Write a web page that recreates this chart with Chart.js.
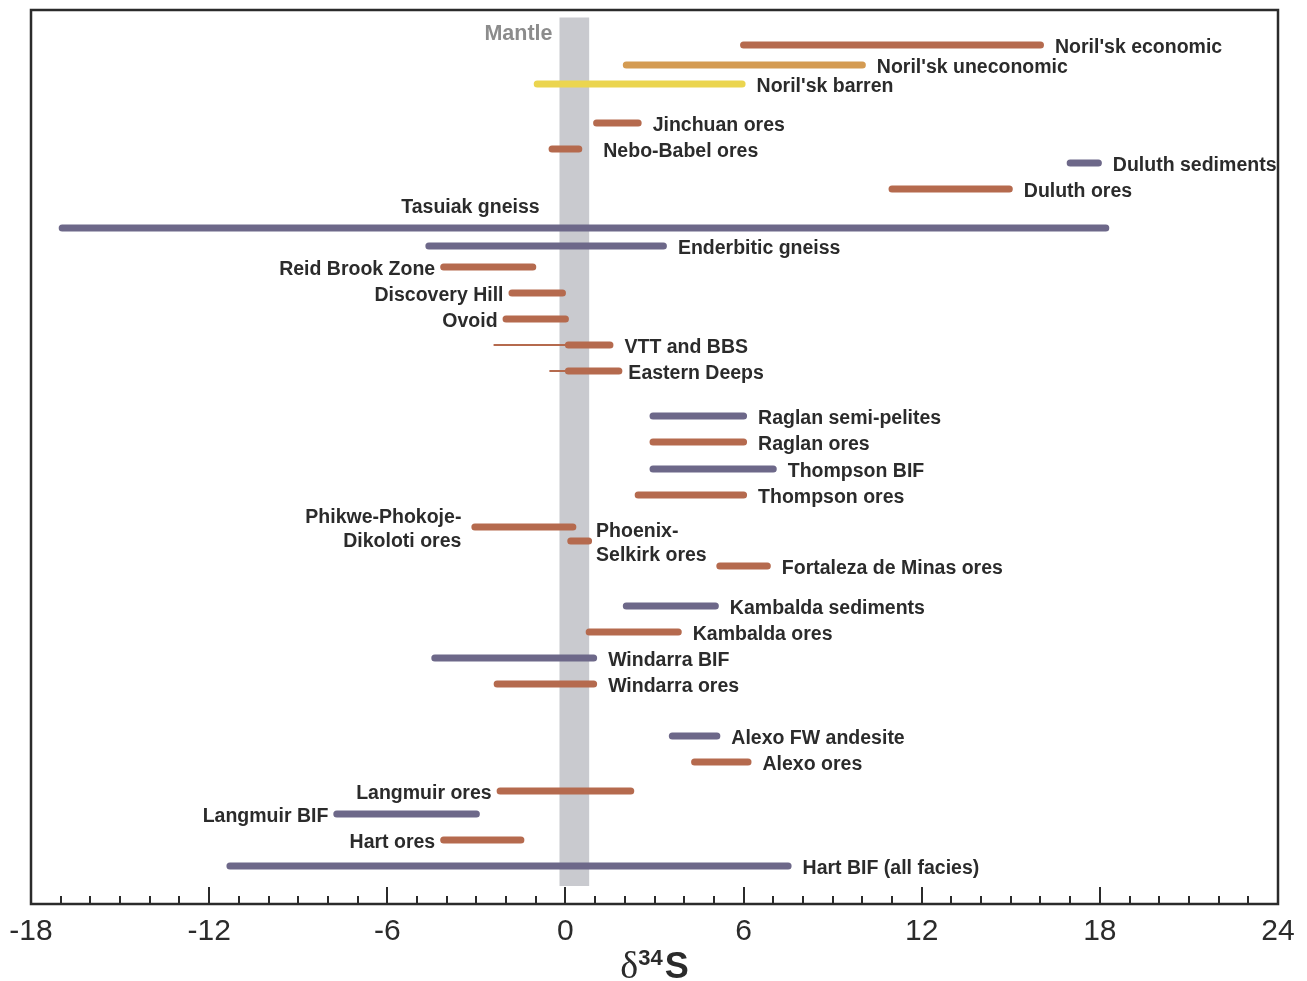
<!DOCTYPE html>
<html>
<head>
<meta charset="utf-8">
<title>d34S ranges</title>
<script src="https://cdn.jsdelivr.net/npm/chart.js@4/dist/chart.umd.min.js"></script>
<style>
  html, body { margin: 0; padding: 0; background: #ffffff; }
  #wrap { width: 1307px; height: 981px; position: relative; }
</style>
</head>
<body>
<div id="wrap"><canvas id="chart"></canvas></div>
<script>
// δ34S ranges per deposit / host rock
const names = [
  "Noril'sk economic", "Noril'sk uneconomic", "Noril'sk barren", 'Jinchuan ores',
  'Nebo-Babel ores', 'Duluth sediments', 'Duluth ores', 'Tasuiak gneiss',
  'Enderbitic gneiss', 'Reid Brook Zone', 'Discovery Hill', 'Ovoid',
  'VTT and BBS', 'Eastern Deeps', 'Raglan semi-pelites', 'Raglan ores',
  'Thompson BIF', 'Thompson ores', 'Phikwe-Phokoje-\nDikoloti ores', 'Phoenix-\nSelkirk ores',
  'Fortaleza de Minas ores', 'Kambalda sediments', 'Kambalda ores', 'Windarra BIF',
  'Windarra ores', 'Alexo FW andesite', 'Alexo ores', 'Langmuir ores',
  'Langmuir BIF', 'Hart ores', 'Hart BIF (all facies)'
];
const lowVals = [
  6.0, 2.05, -0.95, 1.05, -0.45, 17.0, 11.0, -16.95,
  -4.6, -4.1, -1.8, -2.0, 0.1, 0.1, 2.95, 2.95,
  2.95, 2.45, -3.05, 0.18, 5.2, 2.05, 0.8, -4.4,
  -2.3, 3.6, 4.35, -2.2, -7.7, -4.1, -11.3
];
const highVals = [
  16.0, 10.0, 5.95, 2.45, 0.45, 17.95, 14.95, 18.2,
  3.3, -1.1, -0.1, 0.0, 1.5, 1.8, 6.0, 6.0,
  7.0, 6.0, 0.25, 0.78, 6.8, 5.05, 3.8, 0.95,
  0.95, 5.1, 6.15, 2.2, -3.0, -1.5, 7.5
];
// vertical placement of each row (distance from the top of the plot)
const rowPos = [
  35, 55, 74, 113, 139, 153, 179, 218,
  236, 257, 283, 309, 335, 361, 406, 432,
  459, 485, 517, 531, 556, 596, 622, 648,
  674, 726, 752, 781, 804, 830, 856
];
// sample type: ore, sed (country rock), unecon, barren
const kinds = [
  'ore', 'unecon', 'barren', 'ore', 'ore', 'sed', 'ore', 'sed',
  'sed', 'ore', 'ore', 'ore', 'ore', 'ore', 'sed', 'ore',
  'sed', 'ore', 'ore', 'ore', 'ore', 'sed', 'ore', 'sed',
  'ore', 'sed', 'ore', 'ore', 'sed', 'ore', 'sed'
];
// which side the label sits on: r = right, l = left, t = above
const labelSide = [
  'r', 'r', 'r', 'r', 'r', 'r', 'r', 't',
  'r', 'l', 'l', 'l', 'r', 'r', 'r', 'r',
  'r', 'r', 'l', 'r', 'r', 'r', 'r', 'r',
  'r', 'r', 'r', 'l', 'l', 'l', 'r'
];
// thin tails extending the range of two Voisey's Bay groups
const tailNames = ['VTT and BBS', 'Eastern Deeps'];
const tailLow = [-2.42, -0.54];
const tailHigh = [0.1, 0.1];

const mantleRange = [-0.2, 0.8];
const mantleRows = [7.5, 876];
const xTicks = [-18, -12, -6, 0, 6, 12, 18, 24];

const colors = {
  ore: '#b56a4e',
  sed: '#6d6889',
  unecon: '#d49b52',
  barren: '#ebd54f'
};
const textColor = '#2b2b2b';
const labelFont = 'bold 19.5px "Liberation Sans", Arial, sans-serif';
// a few labels sit closer to / further from their bar
const gapOverride = { 'Nebo-Babel ores': 21, 'Phoenix-\nSelkirk ores': 4, 'Eastern Deeps': 6, 'Phikwe-Phokoje-\nDikoloti ores': 10 };

const datasets = [];
names.forEach((n, i) => {
  datasets.push({
    label: n,
    data: [{ x: lowVals[i], y: rowPos[i] }, { x: highVals[i], y: rowPos[i] }],
    showLine: true,
    borderColor: colors[kinds[i]],
    backgroundColor: colors[kinds[i]],
    borderWidth: 7,
    borderCapStyle: 'round',
    pointRadius: 0,
    pointHoverRadius: 0
  });
});
tailNames.forEach((n, i) => {
  const row = rowPos[names.indexOf(n)];
  datasets.push({
    label: n + ' tail',
    data: [{ x: tailLow[i], y: row }, { x: tailHigh[i], y: row }],
    showLine: true,
    borderColor: colors.ore,
    borderWidth: 2,
    borderCapStyle: 'butt',
    pointRadius: 0,
    pointHoverRadius: 0
  });
});

const decorPlugin = {
  id: 'decor',
  beforeDatasetsDraw(chart) {
    const ctx = chart.ctx;
    const x = chart.scales.x, y = chart.scales.y;
    const x0 = x.getPixelForValue(mantleRange[0]);
    const x1 = x.getPixelForValue(mantleRange[1]);
    const y0 = y.getPixelForValue(mantleRows[0]);
    const y1 = y.getPixelForValue(mantleRows[1]);
    ctx.save();
    ctx.fillStyle = '#c9cacf';
    ctx.fillRect(x0, y0, x1 - x0, y1 - y0);
    ctx.fillStyle = '#8c8c8c';
    ctx.font = 'bold 21.5px "Liberation Sans", Arial, sans-serif';
    ctx.textAlign = 'right';
    ctx.textBaseline = 'middle';
    ctx.fillText('Mantle', x0 - 7, y.getPixelForValue(24));
    ctx.restore();
  },
  afterDraw(chart) {
    const ctx = chart.ctx;
    const area = chart.chartArea;
    const x = chart.scales.x, y = chart.scales.y;
    ctx.save();

    // bar labels
    ctx.font = labelFont;
    ctx.fillStyle = textColor;
    ctx.textBaseline = 'middle';
    names.forEach((n, i) => {
      const lines = n.split('\n');
      const yc = y.getPixelForValue(rowPos[i]) + 3;
      const side = labelSide[i];
      const gap = gapOverride[n] !== undefined ? gapOverride[n] : (side === 'r' ? 11 : 5);
      let tx, align;
      if (side === 'r') {
        tx = x.getPixelForValue(highVals[i]) + 3.5 + gap;
        align = 'left';
      } else if (side === 'l') {
        tx = x.getPixelForValue(lowVals[i]) - 3.5 - gap;
        align = 'right';
      } else {
        tx = x.getPixelForValue(-3.2);
        align = 'center';
      }
      ctx.textAlign = align;
      if (side === 't') {
        ctx.fillText(n, tx, yc - 23);
      } else if (lines.length > 1) {
        ctx.fillText(lines[0], tx, yc - 12);
        ctx.fillText(lines[1], tx, yc + 12);
      } else {
        ctx.fillText(n, tx, yc);
      }
    });

    // frame
    ctx.strokeStyle = textColor;
    ctx.lineWidth = 2.5;
    ctx.strokeRect(area.left, area.top, area.right - area.left, area.bottom - area.top);

    // inward ticks, every unit, longer on labelled ones
    ctx.lineWidth = 2;
    for (let v = x.min; v <= x.max; v++) {
      const px = Math.round(x.getPixelForValue(v));
      const len = xTicks.includes(v) ? 17 : 8;
      ctx.beginPath();
      ctx.moveTo(px, area.bottom);
      ctx.lineTo(px, area.bottom - len);
      ctx.stroke();
    }

    // axis title: δ34S
    const cx = (area.left + area.right) / 2;
    const base = 978;
    const partD = { t: 'δ', f: '38px "Liberation Serif", "DejaVu Serif", serif' };
    const partN = { t: '34', f: 'bold 22px "Liberation Sans", Arial, sans-serif' };
    const partS = { t: 'S', f: 'bold 36px "Liberation Sans", Arial, sans-serif' };
    const parts = [partD, partN, partS];
    let total = 0;
    parts.forEach(p => { ctx.font = p.f; p.w = ctx.measureText(p.t).width; total += p.w; });
    total += 2;
    let px = cx - total / 2;
    ctx.textAlign = 'left';
    ctx.textBaseline = 'alphabetic';
    ctx.fillStyle = textColor;
    ctx.font = partD.f; ctx.fillText(partD.t, px, base); px += partD.w;
    ctx.font = partN.f; ctx.fillText(partN.t, px, base - 13); px += partN.w + 2;
    ctx.font = partS.f; ctx.fillText(partS.t, px, base);
    ctx.restore();
  }
};

new Chart(document.getElementById('chart'), {
  type: 'scatter',
  data: { datasets: datasets },
  plugins: [decorPlugin],
  options: {
    responsive: true,
    maintainAspectRatio: false,
    animation: false,
    layout: { padding: { left: 31, right: 29, top: 10, bottom: 0 } },
    plugins: {
      legend: { display: false },
      tooltip: { enabled: false }
    },
    scales: {
      x: {
        type: 'linear',
        min: -18,
        max: 24,
        afterBuildTicks: scale => { scale.ticks = xTicks.map(v => ({ value: v })); },
        afterFit: scale => { scale.height = 77; },
        grid: { display: false },
        border: { display: false },
        ticks: {
          padding: 2,
          color: textColor,
          font: { family: '"Liberation Sans", Arial, sans-serif', size: 30 }
        }
      },
      y: {
        type: 'linear',
        display: false,
        reverse: true,
        min: 0,
        max: 894
      }
    }
  }
});
</script>
</body>
</html>
